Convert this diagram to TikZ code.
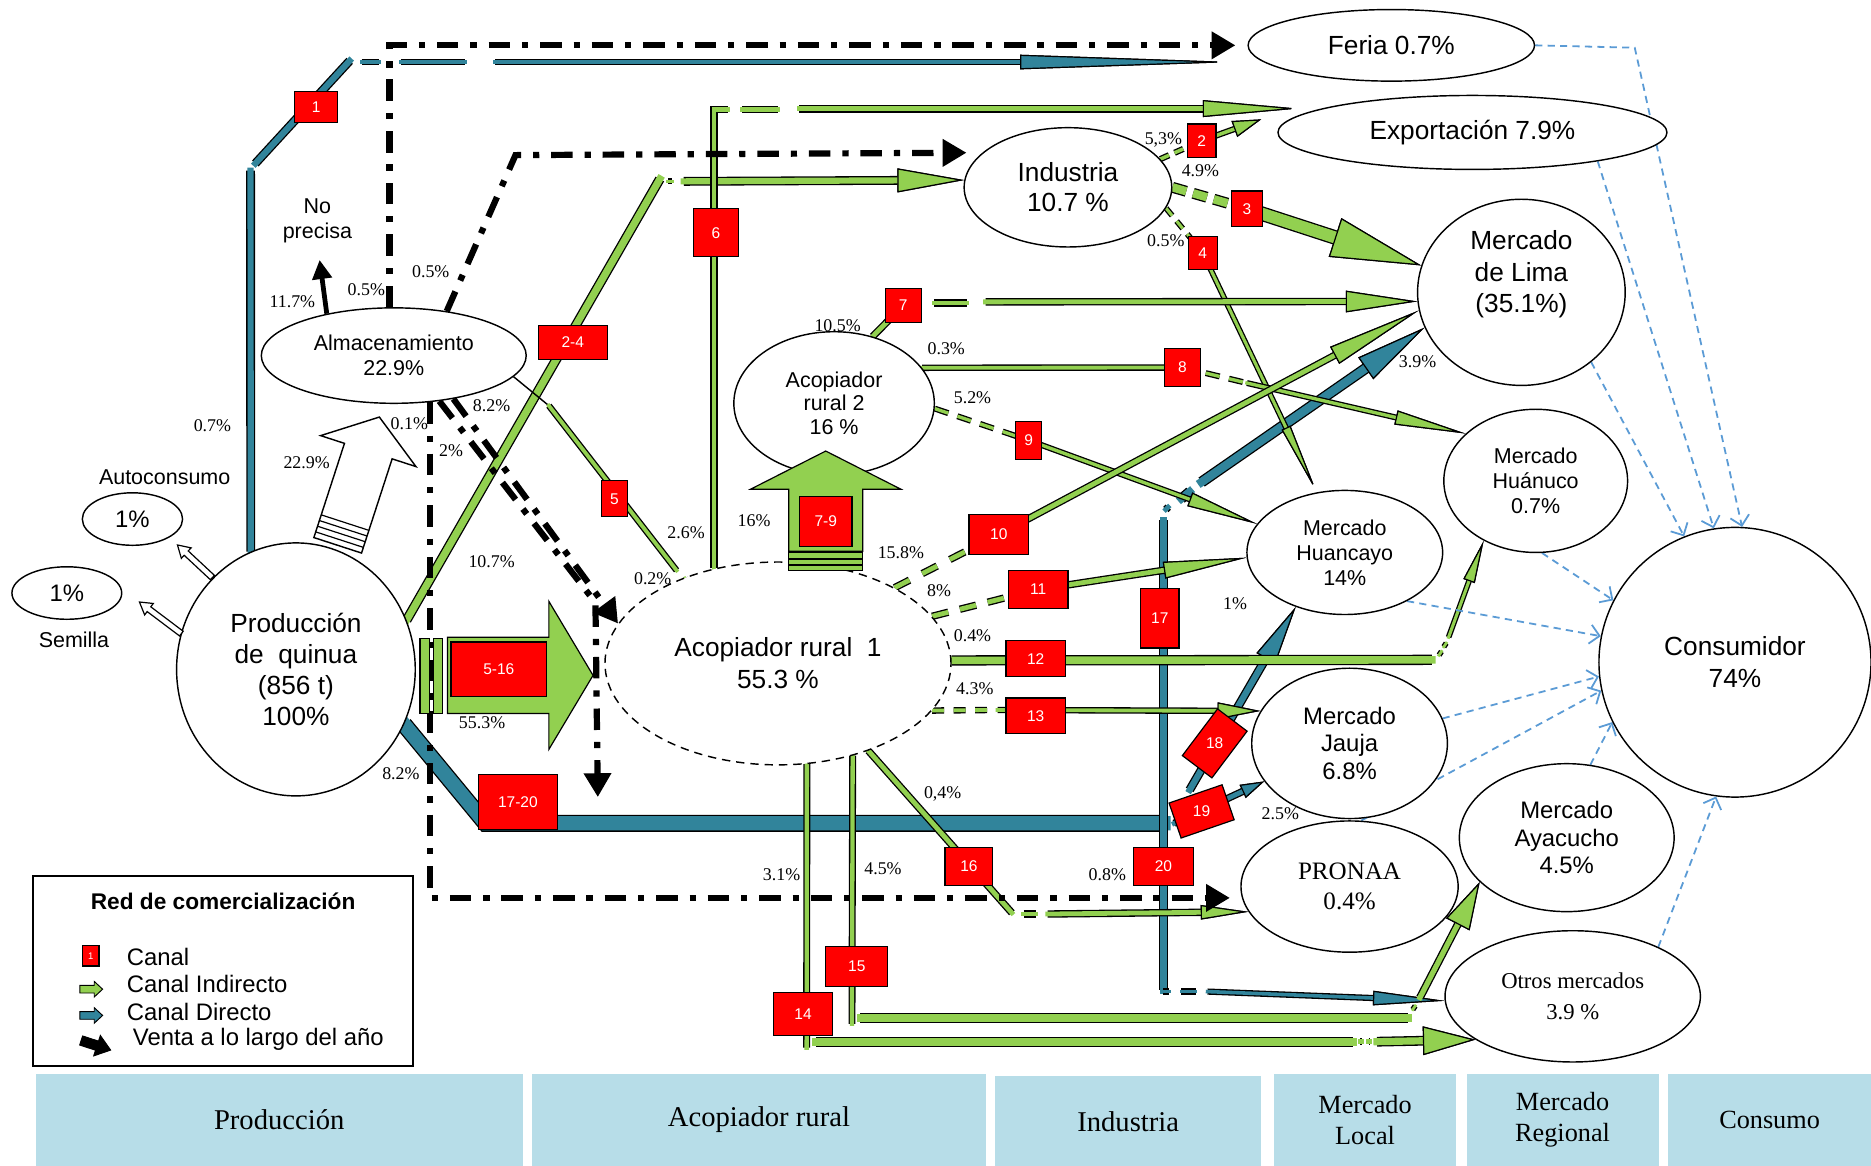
\documentclass[tikz,border=0pt]{standalone}
\usepackage{fontspec}
\setmainfont{Liberation Sans}
\newfontfamily\serifface{Liberation Serif}
\usetikzlibrary{shapes.geometric,arrows.meta}
\definecolor{grn}{HTML}{92D050}
\definecolor{dteal}{HTML}{31849B}
\definecolor{lblue}{HTML}{5B9BD5}
\definecolor{band}{HTML}{B7DDE8}
\pgfdeclarelayer{pipes}
\pgfsetlayers{pipes,main}
% block arrow: x, y, angle, length, half body, half head, head length, style
\newcommand\blockarrow[8]{%
  \begin{scope}[shift={(#1,#2)},rotate=#3]
    \filldraw[#8] (0,-#5) -- (#4-#7,-#5) -- (#4-#7,-#6) -- (#4,0)
      -- (#4-#7,#6) -- (#4-#7,#5) -- (0,#5) -- cycle;
  \end{scope}}
\tikzset{
  el/.style={draw, ellipse, fill=white, inner sep=0pt, align=center, line width=0.6pt},
  cbox/.style 2 args={draw=black, line width=0.5pt, fill=red, text=white, minimum width=#1,
    minimum height=#2, inner sep=0pt, font=\fontsize{6.5}{7}\selectfont},
  boxtext/.style={text=white, inner sep=0pt, font=\fontsize{6.5}{7}\selectfont},
  pct/.style={font=\serifface\fontsize{7.5}{8}\selectfont, inner sep=0pt},
  lbl/.style={font=\fontsize{9}{10.5}\selectfont, inner sep=0pt, align=center},
  leg/.style={font=\fontsize{10}{11}\selectfont, inner sep=0pt, anchor=west},
  gp/.style={line cap=rect, preaction={draw=black, line width=#1+1.1pt}, draw=grn, line width=#1},
  bp/.style={line cap=rect, preaction={draw=black, line width=#1+1.1pt}, draw=dteal, line width=#1},
  gdp/.style 2 args={line cap=butt, preaction={draw=black, line cap=butt, line width=#1+1.1pt, dash pattern=#2},
    draw=grn, line width=#1, dash pattern=#2},
  gtip/.style 2 args={-{Triangle[length=#1, width=#2, line width=0.5pt, color=black, fill=grn]}},
  btip/.style 2 args={-{Triangle[length=#1, width=#2, line width=0.5pt, color=black, fill=dteal]}},
  venta/.style={draw=black, line width=2.6pt, dash pattern=on 9pt off 5pt on 2.6pt off 5pt},
  vtip/.style={-{Triangle[length=10pt, width=11pt]}},
  cdash/.style={draw=lblue, line width=0.75pt, dash pattern=on 3pt off 2.2pt,
    -{Straight Barb[length=4pt, width=8pt, line width=0.75pt]}},
  bandbox/.style={fill=band, minimum height=38.5pt, inner sep=0pt, align=center,
    font=\serifface\fontsize{12}{13}\selectfont},
}
\begin{document}
\begin{tikzpicture}[x=0.5pt, y=-0.5pt]
\useasboundingbox (0,0) rectangle (1568,977);

% ---------------- market nodes ----------------
\node[el, minimum width=100pt, minimum height=106pt, font=\fontsize{11}{13}\selectfont] (prod) at (248,561) {Producción\\de\ \ quinua\\(856 t)\\100\%};
\node[el, minimum width=111pt, minimum height=40pt, font=\fontsize{9}{10.5}\selectfont] (alm) at (330,298) {Almacenamiento\\22.9\%};
\node[el, minimum width=42pt, minimum height=22pt, font=\fontsize{10}{11}\selectfont] (aut) at (111,435) {1\%};
\node[el, minimum width=46pt, minimum height=22pt, font=\fontsize{10}{11}\selectfont] (sem) at (56,497) {1\%};
\node[el, minimum width=87pt, minimum height=50pt, font=\fontsize{11}{12.5}\selectfont] (ind) at (895,157) {Industria\\10.7 \%};
\node[el, minimum width=120pt, minimum height=30pt, font=\fontsize{11}{12}\selectfont] (feria) at (1166,38) {Feria 0.7\%};
\node[el, minimum width=163pt, minimum height=31pt, font=\fontsize{11}{12}\selectfont] (exp) at (1234,111) {Exportación 7.9\%};
\node[el, minimum width=87pt, minimum height=78pt, font=\fontsize{11}{13.3}\selectfont] (lima) at (1275,245) {Mercado\\de Lima\\(35.1\%)\\[4pt]};
\node[el, minimum width=84pt, minimum height=60pt, font=\fontsize{9}{10}\selectfont] (ac2) at (699,338) {Acopiador\\rural 2\\16 \%};
\node[el, minimum width=77pt, minimum height=60pt, font=\fontsize{9}{10.5}\selectfont] (huan) at (1287,403) {Mercado\\Huánuco\\0.7\%};
\node[el, minimum width=82pt, minimum height=52pt, font=\fontsize{9}{10.5}\selectfont] (hyo) at (1127,463) {Mercado\\Huancayo\\14\%};
\node[el, minimum width=114pt, minimum height=113pt, font=\fontsize{11}{13.5}\selectfont] (cons) at (1454,555) {Consumidor\\74\%};
\node[el, dash pattern=on 3.5pt off 2.5pt, minimum width=145pt, minimum height=85pt, font=\fontsize{11}{13.5}\selectfont] (ac1) at (652,556) {Acopiador rural\ \ 1\\55.3 \%};
\node[el, minimum width=82pt, minimum height=63pt, font=\fontsize{10}{11.5}\selectfont] (jauja) at (1131,623) {Mercado\\Jauja\\6.8\%};
\node[el, minimum width=90pt, minimum height=62pt, font=\fontsize{10}{11.5}\selectfont] (ayac) at (1313,702) {Mercado\\Ayacucho\\4.5\%};
\node[el, minimum width=91pt, minimum height=55pt, font=\serifface\fontsize{10.5}{12.5}\selectfont] (pronaa) at (1131,743) {PRONAA\\0.4\%};
\node[el, minimum width=107pt, minimum height=55pt, font=\serifface\fontsize{9.5}{13}\selectfont] (otros) at (1318,835) {Otros mercados\\3.9 \%};

% ---------------- block arrows ----------------
\blockarrow{375}{566}{0}{122}{32}{62}{37}{fill=grn, draw=black, line width=0.5pt}
\filldraw[fill=grn, draw=black, line width=0.5pt] (352,535) rectangle (360,598);
\filldraw[fill=grn, draw=black, line width=0.5pt] (363,535) rectangle (371,598);
\blockarrow{692}{462}{90}{84}{31}{63}{32}{fill=grn, draw=black, line width=0.5pt}
\filldraw[fill=grn, draw=black, line width=0.5pt] (661,463) rectangle (723,478);
\draw[line width=0.8pt] (661,468.5) -- (723,468.5) (661,473.5) -- (723,473.5);
\begin{scope}[shift={(283,457)}, rotate=72]
  \filldraw[fill=white, draw=black, line width=0.6pt] (0,-21) -- (83,-21) -- (83,-42) -- (113,0)
    -- (83,42) -- (83,21) -- (0,21) -- cycle;
  \foreach \s in {5,10,15,20} \draw[line width=0.5pt] (\s,-21) -- (\s,21);
\end{scope}
\blockarrow{178}{484}{137}{40}{2.5}{6}{10}{fill=white, draw=black, line width=0.5pt}
\blockarrow{152}{531}{143}{44}{2.5}{6}{10}{fill=white, draw=black, line width=0.5pt}

% ---------------- channel boxes ----------------
\node[cbox={18pt}{13pt}] (b1) at (265,90) {1};
\node[cbox={29pt}{14pt}] (b24) at (480,287) {2-4};
\node[cbox={11pt}{15pt}] (b5) at (515,418) {5};
\node[cbox={19pt}{20pt}] (b6) at (600,195) {6};
\node[cbox={12pt}{14pt}] (b2) at (1007,118) {2};
\node[cbox={13pt}{15pt}] (b3) at (1045,175) {3};
\node[cbox={12pt}{14pt}] (b4) at (1008,212) {4};
\node[cbox={15pt}{14pt}] (b7) at (757,256) {7};
\node[cbox={15pt}{16pt}] (b8) at (991,308) {8};
\node[cbox={11pt}{16pt}] (b9) at (862,369) {9};
\node[cbox={22pt}{21pt}] (b79) at (692,437) {7-9};
\node[cbox={25pt}{17pt}] (b10) at (837,448) {10};
\node[cbox={25pt}{16pt}] (b11) at (870,494) {11};
\node[cbox={25pt}{15pt}] (b12) at (868,552) {12};
\node[cbox={25pt}{15pt}] (b13) at (868,600) {13};
\node[cbox={40pt}{23pt}] (b516) at (418,561) {5-16};
\node[cbox={33pt}{23pt}] (b1720) at (434,672) {17-20};
\node[cbox={16pt}{25pt}] (b17) at (972,518) {17};
\node[cbox={15.5pt}{24.5pt}, rotate=-37] (b18r) at (1018,623) {};
\node[boxtext] (b18) at (1018,623) {18};
\node[cbox={23.5pt}{15.5pt}, rotate=19] (b19r) at (1007,680) {};
\node[boxtext] (b19) at (1007,680) {19};
\node[cbox={25pt}{16pt}] (b20) at (975,726) {20};
\node[cbox={20pt}{16pt}] (b16) at (812,726) {16};
\node[cbox={26pt}{17pt}] (b15) at (718,810) {15};
\node[cbox={25pt}{18pt}] (b14) at (673,850) {14};

% ---------------- free labels ----------------
\node[lbl] (np) at (266,185) {No\\precisa};
\node[lbl] (autl) at (138,400) {Autoconsumo};
\node[lbl] (seml) at (62,536) {Semilla};

\node[pct] (p1) at (178,357) {0.7\%};
\node[pct] (p2) at (257,388) {22.9\%};
\node[pct] (p3) at (245,253) {11.7\%};
\node[pct] (p4) at (307,243) {0.5\%};
\node[pct] (p5) at (361,228) {0.5\%};
\node[pct] (p6) at (412,340) {8.2\%};
\node[pct] (p7) at (343,355) {0.1\%};
\node[pct] (p8) at (378,378) {2\%};
\node[pct] (p9) at (412,471) {10.7\%};
\node[pct] (p10) at (404,606) {55.3\%};
\node[pct] (p11) at (336,648) {8.2\%};
\node[pct] (p12) at (575,446) {2.6\%};
\node[pct] (p13) at (547,485) {0.2\%};
\node[pct] (p14) at (632,436) {16\%};
\node[pct] (p15) at (755,463) {15.8\%};
\node[pct] (p16) at (787,495) {8\%};
\node[pct] (p17) at (815,533) {0.4\%};
\node[pct] (p18) at (817,577) {4.3\%};
\node[pct] (p19) at (790,665) {0,4\%};
\node[pct] (p20) at (655,733) {3.1\%};
\node[pct] (p21) at (740,728) {4.5\%};
\node[pct] (p22) at (928,733) {0.8\%};
\node[pct] (p23) at (702,273) {10.5\%};
\node[pct] (p24) at (793,292) {0.3\%};
\node[pct] (p25) at (815,333) {5.2\%};
\node[pct] (p26) at (975,117) {5,3\%};
\node[pct] (p27) at (1006,143) {4.9\%};
\node[pct] (p28) at (977,202) {0.5\%};
\node[pct] (p29) at (1188,303) {3.9\%};
\node[pct] (p30) at (1035,506) {1\%};
\node[pct] (p31) at (1073,682) {2.5\%};

% ---------------- legend ----------------
\node[draw, line width=0.8pt, minimum width=159pt, minimum height=79.5pt, inner sep=0pt] (legbox) at (187,813.5) {};
\node[font=\bfseries\fontsize{9.5}{11}\selectfont, inner sep=0pt] (legt) at (187,755) {Red de comercialización};
\node[cbox={7pt}{8.5pt}, font=\fontsize{4}{4}\selectfont] (legc) at (76,801) {1};
\node[leg] (legct) at (106,802) {Canal};
\blockarrow{67}{829}{0}{19}{3.2}{6.5}{7}{fill=grn, draw=black, line width=0.4pt}
\node[leg] (legit) at (106,825) {Canal Indirecto};
\blockarrow{67}{851}{0}{19}{3.2}{6.5}{7}{fill=dteal, draw=black, line width=0.4pt}
\node[leg] (legdt) at (106,848) {Canal Directo};
\blockarrow{68}{872}{-18}{26}{4}{9}{12}{fill=black}
\node[leg] (legvt) at (111,871) {Venta a lo largo del año};

% ---------------- stage bands ----------------
\node[bandbox, minimum width=204pt] (bprod) at (234,938.5) {Producción};
\node[bandbox, minimum width=190pt] (bacop) at (636,938.5) {Acopiador rural};
\node[bandbox, minimum width=111.5pt] (bind) at (945.5,940) {Industria};
\node[bandbox, minimum width=76pt, font=\serifface\fontsize{11}{13}\selectfont] (bloc) at (1144,938.5) {Mercado\\Local};
\node[bandbox, minimum width=80.5pt, font=\serifface\fontsize{11}{13}\selectfont] (breg) at (1309.5,938.5) {Mercado\\Regional};
\node[bandbox, minimum width=85pt, font=\serifface\fontsize{11}{13}\selectfont] (bcons) at (1483,938.5) {Consumo};

% ---------------- connectors ----------------
\begin{pgfonlayer}{pipes}
% direct channels (blue)
\draw[bp=2.6pt] (prod.111) -- (210,143);
\draw[bp=2.6pt] (214,137) -- (293,51);
\draw[bp=1.4pt] (303,52) -- (318,52);
\draw[bp=1.4pt] (336,52) -- (390,52);
\coordinate (fe1) at (1035,52);
\draw[bp=1.6pt, btip={90pt}{6pt}] (415,52) -- (fe1);
\draw[bp=6pt] (prod.-27) -- (407,690) -- (975,690);
\draw[bp=3pt] (975,436) -- (975,830);
\draw[bp=2pt] (977,427) -- (979,425);
\draw[bp=3.2pt] (990,418) -- (997,412);
\draw[bp=3.5pt, btip={30pt}{11pt}] (1007,404) -- (lima.200);
\draw[bp=2.6pt, btip={25pt}{9pt}] (997,662) -- (hyo.228);
\draw[bp=2pt, btip={10pt}{6pt}] (984,690) -- (jauja.204);
\draw[bp=1.5pt] (975,831) -- (980,831);
\draw[bp=1.5pt] (990,831) -- (1002,831);
\draw[bp=1.5pt, btip={30pt}{6pt}] (1012,831) -- (otros.182);

% indirect channels (green)
\draw[gp=3pt] (prod.24) -- (553,150);
\draw[gp=1.5pt] (560,152) -- (563,152);
\draw[gp=2.6pt, gtip={28pt}{10pt}] (573,152) -- (ind.176);
\draw[black, line width=0.6pt] (alm.-10) -- (460,340);
\draw[gp=1.6pt] (460,340) -- (567,478);
\draw[gp=1.6pt] (574,485) -- (578,490);
\draw[gp=2pt] (ac1.124) |- (610,92);
\draw[gp=2pt] (622,92) -- (652,92);
\coordinate (fe6) at (1088,91);
\draw[gp=2.2pt, gtip={40pt}{7pt}] (670,91) -- (fe6);

\coordinate (fe2) at (1057,100);
\draw[gdp={1.5pt}{on 4pt off 2.5pt}] (ind.17) -- (b2.center);
\draw[gp=1.5pt, gtip={12pt}{7pt}] (b2.center) -- (fe2);
\draw[gdp={3.5pt}{on 6pt off 3pt}] (ind.east) -- (b3.center);
\draw[gp=5pt, gtip={38pt}{17pt}] (b3.center) -- (lima.165);
\draw[gdp={1.3pt}{on 4pt off 3pt}] (ind.-12) -- (b4.center);
\draw[gp=1.3pt, gtip={30pt}{4pt}] (b4.center) -- (hyo.115);

\draw[gp=2pt] (ac2.60) -- (b7.center);
\draw[gp=2pt] (783,254) -- (810,254);
\draw[gp=2pt, gtip={30pt}{9pt}] (826,253) -- (lima.185);
\draw[gp=1.6pt] (ac2.22) -- (b8.center);
\draw[gdp={1.4pt}{on 6pt off 4pt}] (b8.center) -- (1045,321);
\draw[gp=1.4pt, gtip={30pt}{6pt}] (1045,321) -- (huan.146);
\draw[gdp={1.4pt}{on 6pt off 4pt}] (ac2.-3) -- (b9.center);
\draw[gp=1.4pt, gtip={30pt}{6pt}] (b9.center) -- (hyo.162);

\draw[gdp={2pt}{on 7pt off 6pt}] (ac1.33) -- (b10.center);
\draw[gp=2pt, gtip={40pt}{8pt}] (b10.center) -- (lima.190);
\draw[gdp={2pt}{on 7pt off 5pt}] (ac1.17) -- (b11.center);
\draw[gp=2pt, gtip={35pt}{7pt}] (b11.center) -- (hyo.183);
\draw[gp=3.2pt] (ac1.1) -- (1200,553);
\draw[gp=1.2pt] (1206,549) -- (1208,546);
\draw[gp=1.2pt] (1210,542) -- (1212,539);
\draw[gp=1.3pt, gtip={18pt}{5pt}] (1214,534) -- (huan.229);
\draw[gdp={1.6pt}{on 5pt off 4pt}] (ac1.-17) -- (830,595);
\draw[gp=1.6pt, gtip={18pt}{7pt}] (836,595) -- (jauja.160);
\draw[gp=1.8pt] (ac1.-74) -- (676,878);
\draw[gp=3.2pt] (684,873) -- (1134,873);
\draw[gp=2pt] (1140,873) -- (1141,873);
\draw[gp=2pt] (1147,873) -- (1148,873);
\draw[gp=3pt, gtip={22pt}{12pt}] (1154,873) -- (otros.204);
\draw[gp=1.8pt] (ac1.-51) -- (714,858);
\draw[gp=3.2pt] (721,853) -- (1180,853);
\draw[gp=1.2pt] (1184,846) -- (1186,843);
\draw[gp=2.2pt, gtip={20pt}{11pt}] (1190,836) -- (ayac.207);
\draw[gp=2pt] (ac1.-44) -- (848,765);
\draw[gp=2pt] (858,766) -- (868,766);
\draw[gp=2pt, gtip={20pt}{6pt}] (878,766) -- (pronaa.194);

% sales along the year (black dash-dot)
\draw[venta, vtip, shorten >=5pt] (alm.95) |- (feria.west);
\coordinate (v2e) at (810,128);
\draw[venta, vtip] (alm.40) -- (432,130) -- (v2e);
\draw[venta, vtip, shorten >=5pt] (alm.-52) |- (pronaa.186);
\coordinate (v4e) at (501,668);
\draw[venta, vtip] (alm.-45) -- (499,505) -- (v4e);
\draw[venta, vtip] (alm.-36) -- (ac1.166);
\draw[line width=2pt, -{Triangle[length=8pt, width=8pt]}, shorten >=7pt] (alm.148) -- (np.south);

% flows to the consumer
\draw[cdash] (feria.east) -- (1370,40) -- (cons.87);
\draw[cdash] (exp.-13) -- (cons.99);
\draw[cdash] (lima.-45) -- (cons.112);
\draw[cdash] (huan.-85) -- (cons.153);
\draw[cdash] (hyo.-38) -- (cons.169);
\draw[cdash] (jauja.15) -- (cons.186);
\draw[cdash] (pronaa.80) -- (cons.192);
\draw[cdash] (ayac.72) -- (cons.206);
\draw[cdash] (otros.30) -- (cons.262);
\end{pgfonlayer}
\end{tikzpicture}
\end{document}
